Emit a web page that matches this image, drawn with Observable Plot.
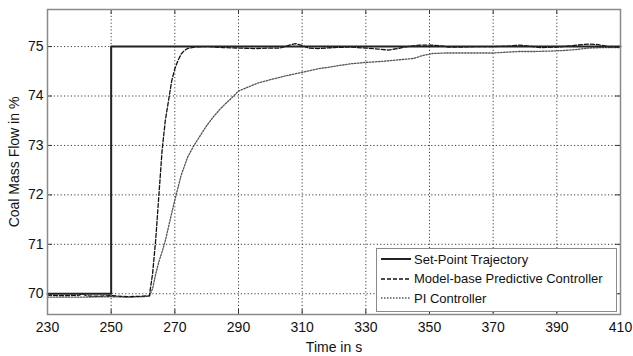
<!DOCTYPE html>
<html>
<head>
<meta charset="utf-8">
<script src="https://cdn.jsdelivr.net/npm/d3@7"></script>
<script src="https://cdn.jsdelivr.net/npm/@observablehq/plot@0.6"></script>
<style>
  html, body { margin: 0; padding: 0; background: #fff; }
  #wrap { position: relative; width: 633px; height: 356px; font-family: "Liberation Sans", Arial, sans-serif; }
  #legend { position: absolute; left: 376px; top: 248px; width: 239px; height: 62px; background: #fff;
            border: 1.5px solid #8a8a8a; font-size: 13px; color: #111; }
  .row { position: absolute; left: 4px; height: 16px; display: flex; align-items: center; }
  .row svg { margin-right: 3px; }
</style>
</head>
<body>
<div id="wrap"></div>
<script>
// ---- data ----
const seriesNames = ["Set-Point Trajectory", "Model-base Predictive Controller", "PI Controller"];
const xTicks = [230, 250, 270, 290, 310, 330, 350, 370, 390, 410];
const yTicks = [70, 71, 72, 73, 74, 75];

const setPointT = [230, 250, 250, 410];
const setPointY = [70, 70, 75, 75];

const mpcT = [230, 235, 240, 241, 242, 245, 250, 255, 260, 262, 263, 264, 265, 266, 267, 268, 269, 270, 271, 272, 273, 274, 276, 280, 285, 290, 295, 300, 303, 306, 308, 310, 312, 315, 320, 325, 330, 334, 337, 340, 343, 347, 350, 353, 356, 360, 365, 370, 375, 378, 380, 385, 390, 395, 398, 400, 403, 406, 410];
const mpcY = [69.97, 69.96, 69.97, 70.01, 69.96, 69.95, 69.96, 69.94, 69.95, 69.96, 70.4, 71.1, 72.0, 72.9, 73.5, 73.9, 74.3, 74.55, 74.72, 74.85, 74.92, 74.96, 74.99, 75.0, 74.98, 74.97, 74.96, 74.97, 74.97, 75.03, 75.06, 75.02, 74.97, 74.96, 74.98, 74.99, 74.97, 74.95, 74.93, 74.96, 75.0, 75.03, 75.03, 75.02, 74.99, 74.99, 75.0, 75.0, 75.01, 75.03, 75.02, 74.98, 74.99, 75.02, 75.04, 75.05, 75.04, 75.0, 74.99];

const piT = [230, 240, 250, 255, 260, 262, 263, 264, 265, 266, 267, 268, 270, 272, 274, 276, 278, 280, 282, 284, 286, 288, 290, 293, 296, 300, 305, 310, 315, 320, 325, 330, 335, 340, 345, 348, 351, 355, 360, 365, 370, 375, 378, 383, 388, 392, 396, 400, 405, 410];
const piY = [69.93, 69.93, 69.94, 69.93, 69.94, 69.95, 70.1, 70.4, 70.65, 70.85, 71.07, 71.35, 71.9, 72.4, 72.76, 73.0, 73.2, 73.4, 73.57, 73.72, 73.85, 73.97, 74.1, 74.18, 74.26, 74.33, 74.41, 74.48, 74.55, 74.6, 74.65, 74.68, 74.7, 74.73, 74.76, 74.82, 74.86, 74.87, 74.87, 74.87, 74.87, 74.89, 74.9, 74.9, 74.91, 74.92, 74.94, 74.97, 74.98, 74.98];

const styles = [
  {stroke: "#222", strokeWidth: 2, dash: null},
  {stroke: "#111", strokeWidth: 1.3, dash: "4,2"},
  {stroke: "#555", strokeWidth: 1.3, dash: "1.5,1.5"}
];

const toRows = (T, Y) => T.map((t, i) => ({t, v: Y[i]}));
const setPoint = toRows(setPointT, setPointY);
const mpc = toRows(mpcT, mpcY);
const pi = toRows(piT, piY);

const W = 633, H = 356, mL = 47, mR = 13, mT = 9, mB = 42;
const plotH = H - mT - mB, plotW = W - mL - mR;

const chart = Plot.plot({
  width: W, height: H,
  marginLeft: mL, marginRight: mR, marginTop: mT, marginBottom: mB,
  style: {fontFamily: "Liberation Sans, Arial, sans-serif", fontSize: "14px", color: "#111", background: "#fff"},
  x: {domain: [230, 410], ticks: xTicks},
  y: {domain: [69.58, 75.75], ticks: yTicks},
  marks: [
    Plot.ruleX(xTicks, {x: d => d, stroke: "#000", strokeOpacity: 0.75, strokeDasharray: "1.2,2.2", strokeWidth: 1}),
    Plot.ruleY(yTicks, {y: d => d, stroke: "#000", strokeOpacity: 0.75, strokeDasharray: "1.2,2.2", strokeWidth: 1}),
    // inward tick marks
    Plot.ruleX(xTicks, {x: d => d, insetTop: plotH - 5, stroke: "#333"}),
    Plot.ruleX(xTicks, {x: d => d, insetBottom: plotH - 5, stroke: "#333"}),
    Plot.ruleY(yTicks, {y: d => d, insetRight: plotW - 5, stroke: "#333"}),
    Plot.ruleY(yTicks, {y: d => d, insetLeft: plotW - 5, stroke: "#333"}),
    Plot.line(pi, {x: "t", y: "v", stroke: styles[2].stroke, strokeWidth: styles[2].strokeWidth, strokeDasharray: styles[2].dash}),
    Plot.line(mpc, {x: "t", y: "v", stroke: styles[1].stroke, strokeWidth: styles[1].strokeWidth, strokeDasharray: styles[1].dash}),
    Plot.line(setPoint, {x: "t", y: "v", stroke: styles[0].stroke, strokeWidth: styles[0].strokeWidth}),
    Plot.frame({stroke: "#8a8a8a", strokeWidth: 1.5}),
    Plot.axisX({ticks: xTicks, tickFormat: d3.format("d"), tickSize: 0, tickPadding: 8, label: "Time in s", labelAnchor: "center", labelOffset: 37, labelArrow: "none"}),
    Plot.axisY({ticks: yTicks, tickFormat: d3.format("d"), tickSize: 0, tickPadding: 4, label: "Coal Mass Flow in %", labelAnchor: "center", labelOffset: 38, labelArrow: "none"})
  ]
});

const wrap = document.getElementById("wrap");
wrap.appendChild(chart);

// legend
const leg = document.createElement("div");
leg.id = "legend";
seriesNames.forEach((name, i) => {
  const row = document.createElement("div");
  row.className = "row";
  row.style.top = (2 + i * 19.5) + "px";
  const s = styles[i];
  row.innerHTML = `<svg width="30" height="6"><line x1="0" x2="30" y1="3" y2="3" stroke="${s.stroke}" stroke-width="${s.strokeWidth}" ${s.dash ? `stroke-dasharray="${s.dash}"` : ""}/></svg><span>${name}</span>`;
  leg.appendChild(row);
});
wrap.appendChild(leg);
</script>
</body>
</html>
